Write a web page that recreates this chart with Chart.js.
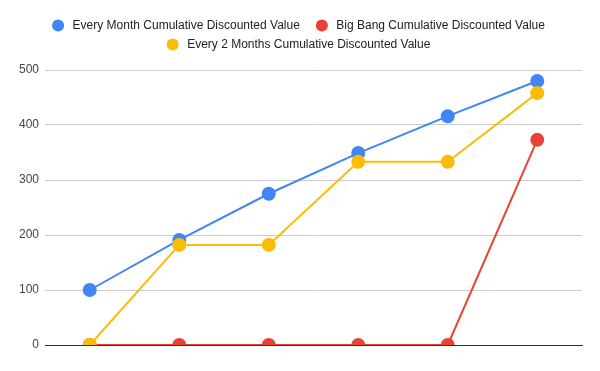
<!DOCTYPE html>
<html>
<head>
<meta charset="utf-8">
<script src="https://cdn.jsdelivr.net/npm/chart.js@4"></script>
<style>
  html, body { margin: 0; padding: 0; background: #fff; }
  #wrap { width: 600px; height: 371px; }
</style>
</head>
<body>
<div id="wrap"><canvas id="graph"></canvas></div>
<script>
const labels = ["1", "2", "3", "4", "5", "6"];
const everyMonth = [100, 191, 275, 349, 416, 480];
const bigBang = [0, 0, 0, 0, 0, 373];
const everyTwoMonths = [0, 182, 182, 333, 333, 458];
const yTicks = [0, 100, 200, 300, 400, 500];

const FONT = "'Liberation Sans', Arial, sans-serif";

function series(label, data, color, order) {
  return {
    label,
    data,
    borderColor: color,
    backgroundColor: color,
    pointBackgroundColor: color,
    pointBorderColor: color,
    pointRadius: 6,
    pointHoverRadius: 6,
    borderWidth: 2,
    tension: 0,
    order
  };
}

// google-sheets style legend: circle, text, wrapped rows centred
const sheetLegend = {
  id: 'sheetLegend',
  afterDraw(chart) {
    const c = chart.ctx;
    const r = 6, toText = 14.5, toNext = 22, maxW = 560;
    const rowY = [25.5, 44.5];
    c.save();
    c.font = "12px " + FONT;
    c.textBaseline = 'middle';
    const items = chart.data.datasets.map(ds => ({
      text: ds.label, color: ds.borderColor, w: c.measureText(ds.label).width
    }));
    const rows = [];
    let row = [], rowW = 0;
    items.forEach(it => {
      const add = (row.length ? toNext : r) + toText + it.w;
      if (row.length && rowW + add > maxW) {
        rows.push({ row, rowW });
        row = [];
        rowW = 0;
      }
      rowW += (row.length ? toNext : r) + toText + it.w;
      row.push(it);
    });
    rows.push({ row, rowW });
    rows.forEach((rw, i) => {
      let x = (chart.width - rw.rowW) / 2 + r - 1.5;
      const y = rowY[i] !== undefined ? rowY[i] : rowY[0] + i * 19;
      rw.row.forEach((it, j) => {
        if (j > 0) x += toNext;
        c.fillStyle = it.color;
        c.beginPath();
        c.arc(x, y, r, 0, Math.PI * 2);
        c.fill();
        c.fillStyle = "#222";
        c.fillText(it.text, x + toText, y);
        x += toText + it.w;
      });
    });
    c.restore();
  }
};

const ctx = document.getElementById('graph').getContext('2d');
new Chart(ctx, {
  type: 'line',
  data: {
    labels,
    datasets: [
      series("Every Month Cumulative Discounted Value", everyMonth, "#4285f4", 3),
      series("Big Bang Cumulative Discounted Value", bigBang, "#ea4335", 2),
      series("Every 2 Months Cumulative Discounted Value", everyTwoMonths, "#fbbc04", 1)
    ]
  },
  plugins: [sheetLegend],
  options: {
    responsive: true,
    maintainAspectRatio: false,
    animation: false,
    layout: { padding: { left: 13, right: 18, top: 70, bottom: 18 } },
    plugins: {
      legend: { display: false },
      tooltip: { enabled: false }
    },
    scales: {
      x: {
        offset: true,
        ticks: { display: false },
        grid: { display: false },
        border: { color: "#333", width: 1 }
      },
      y: {
        min: 0,
        max: 500,
        afterBuildTicks: axis => { axis.ticks = yTicks.map(v => ({ value: v })); },
        ticks: {
          color: "#444",
          padding: 6,
          font: { family: FONT, size: 12 }
        },
        grid: {
          color: c => c.tick.value === 0 ? "#333" : "#ccc",
          drawTicks: false
        },
        border: { display: false }
      }
    }
  }
});
</script>
</body>
</html>
